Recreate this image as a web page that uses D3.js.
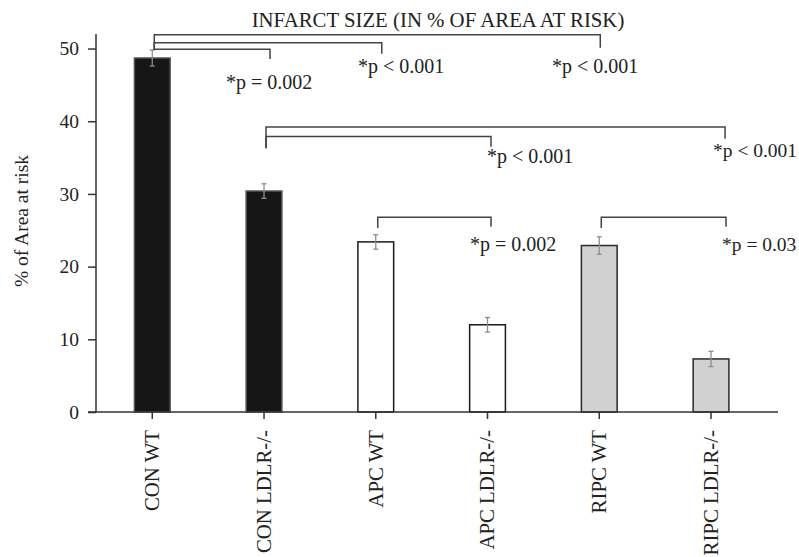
<!DOCTYPE html>
<html lang="en">
<head>
  <meta charset="UTF-8">
  <title>Infarct size</title>
  <script src="https://d3js.org/d3.v7.min.js"></script>
  <style>
    body { margin: 0; background: #fff; }
    svg text { font-family: "Liberation Serif", "Times New Roman", serif; fill: #222; }
    .axis path, .axis line { stroke: #333; stroke-width: 1.5; }
    .axis text { font-size: 19.5px; }
    .bracket { fill: none; stroke: #444; stroke-width: 1.5; }
  </style>
</head>
<body>
  <div id="chart"></div>

  <script>
    // data
    const groups = ["CON WT", "CON LDLR-/-", "APC WT", "APC LDLR-/-", "RIPC WT", "RIPC LDLR-/-"];
    const infarct = [48.7, 30.4, 23.4, 12.0, 22.9, 7.3];
    const sem = [1.1, 1.0, 1.0, 1.0, 1.2, 1.05];
    const yTicks = [0, 10, 20, 30, 40, 50];

    // significance brackets (group index pairs, levels in % units)
    const compFrom = [0, 0, 0, 1, 1, 2, 4];
    const compTo = [1, 2, 4, 3, 5, 3, 5];
    const compLevel = [49.9, 50.8, 51.9, 37.9, 39.2, 26.8, 26.8];
    const compDrop = [48.55, 49.3, 50.1, 36.5, 37.6, 25.5, 25.5];
    const compLabel = ["*p = 0.002", "*p < 0.001", "*p < 0.001", "*p < 0.001", "*p < 0.001", "*p = 0.002", "*p = 0.03"];

    const fills = ["#161616", "#161616", "#ffffff", "#ffffff", "#d0d1d0", "#d0d1d0"];
    const strokes = ["#555", "#555", "#1a1a1a", "#1a1a1a", "#2a2a2a", "#2a2a2a"];

    // annotation placement (pixels)
    const labelX = [226, 358, 552, 487, 713, 470, 722];
    const labelY = [89, 73, 73, 163, 157, 251, 251];
    const rightNudge = [6, 6, 1, 3.5, 14, 3.5, 15];
    const leftStart = [49.8, 49.8, 49.8, 36.3, 36.3, 25.3, 25.3];

    const W = 799, H = 557;
    const svg = d3.select("#chart").append("svg")
      .attr("width", W)
      .attr("height", H);

    const x = d3.scaleBand()
      .domain(groups)
      .range([96.4, 766.9])
      .paddingInner(0.68)
      .paddingOuter(0.34);

    const y = d3.scaleLinear()
      .domain([0, 52])
      .range([412, 34]);

    // title
    svg.append("text")
      .attr("x", 438)
      .attr("y", 27)
      .attr("text-anchor", "middle")
      .style("font-size", "20.8px")
      .text("INFARCT SIZE (IN % OF AREA AT RISK)");

    // y axis
    const yAxis = svg.append("g")
      .attr("class", "axis")
      .attr("transform", "translate(96,0)")
      .call(d3.axisLeft(y).tickValues(yTicks).tickSize(8).tickSizeOuter(0).tickPadding(9));
    yAxis.select(".domain").remove();
    yAxis.append("line")
      .attr("x1", 0).attr("x2", 0)
      .attr("y1", y(52)).attr("y2", y(0));

    svg.append("text")
      .attr("transform", "translate(28,221) rotate(-90)")
      .attr("text-anchor", "middle")
      .style("font-size", "19.5px")
      .text("% of Area at risk");

    // bars
    svg.selectAll(".bar")
      .data(groups)
      .enter()
      .append("rect")
      .attr("class", "bar")
      .attr("x", d => x(d))
      .attr("width", x.bandwidth())
      .attr("y", (d, i) => y(infarct[i]))
      .attr("height", (d, i) => y(0) - y(infarct[i]))
      .attr("fill", (d, i) => fills[i])
      .attr("stroke", (d, i) => strokes[i])
      .attr("stroke-width", 1.5);

    // error bars
    const err = svg.append("g")
      .attr("stroke", "#8c8c8c")
      .attr("stroke-width", 1.3);
    groups.forEach((g, i) => {
      const cx = x(g) + x.bandwidth() / 2;
      const top = y(infarct[i] + sem[i]);
      const bot = y(infarct[i] - sem[i]);
      err.append("line").attr("x1", cx).attr("x2", cx).attr("y1", top).attr("y2", bot);
      err.append("line").attr("x1", cx - 2.5).attr("x2", cx + 2.5).attr("y1", top).attr("y2", top);
      err.append("line").attr("x1", cx - 2.5).attr("x2", cx + 2.5).attr("y1", bot).attr("y2", bot);
    });

    // x axis
    const xAxis = svg.append("g")
      .attr("class", "axis")
      .attr("transform", "translate(0," + y(0) + ")")
      .call(d3.axisBottom(x).tickSize(7).tickSizeOuter(0));
    xAxis.select(".domain").remove();
    xAxis.append("line")
      .attr("x1", 88).attr("x2", 778)
      .attr("y1", 0).attr("y2", 0);
    xAxis.selectAll(".tick text")
      .attr("transform", "translate(0,18) rotate(-90)")
      .attr("text-anchor", "end")
      .attr("x", 0)
      .attr("y", 0)
      .attr("dy", "0.33em")
      .style("font-size", "20.8px");

    // brackets
    const center = i => x(groups[i]) + x.bandwidth() / 2;
    compFrom.forEach((f, k) => {
      const x0 = center(f) + 2;
      const x1 = center(compTo[k]) + rightNudge[k];
      const yl = y(compLevel[k]);
      svg.append("path")
        .attr("class", "bracket")
        .attr("d", `M${x0},${y(leftStart[k])}V${yl}H${x1}V${y(compDrop[k])}`);
      svg.append("text")
        .attr("x", labelX[k])
        .attr("y", labelY[k])
        .style("font-size", labelX[k] > 700 ? "19.5px" : "20px")
        .text(compLabel[k]);
    });
  </script>
</body>
</html>
